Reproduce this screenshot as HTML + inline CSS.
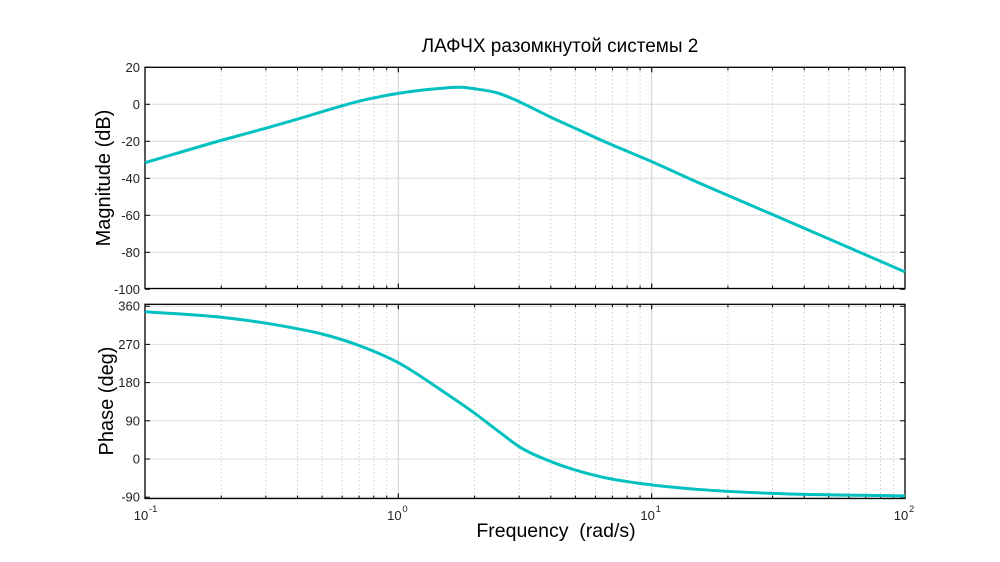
<!DOCTYPE html>
<html><head><meta charset="utf-8">
<style>
html,body{margin:0;padding:0;background:#fff;}
svg{display:block;font-family:"Liberation Sans","DejaVu Sans",sans-serif;}
</style></head>
<body>
<svg id="chart" width="1000" height="562" viewBox="0 0 1000 562" xmlns="http://www.w3.org/2000/svg">
<rect width="1000" height="562" fill="#fff"/>
<text x="560" y="52" text-anchor="middle" font-size="19" fill="#000">ЛАФЧХ разомкнутой системы 2</text>
<text x="556" y="537" text-anchor="middle" font-size="19.5" fill="#000" xml:space="preserve">Frequency  (rad/s)</text>
<text transform="translate(110,178) rotate(-90)" text-anchor="middle" font-size="20" fill="#000">Magnitude (dB)</text>
<text transform="translate(113,401) rotate(-90)" text-anchor="middle" font-size="20" fill="#000">Phase (deg)</text>
<g id="g"></g>
</svg>
<script>
const magFreq = [0.1,0.2,0.3,0.41,0.5,0.71,1,1.47,1.76,2,2.5,3,4,5,6.3,10,15.5,30,100];
const magDb   = [-31.6,-19.5,-12.9,-7.6,-4,1.9,5.9,8.6,9.2,8.4,5.9,1.4,-7,-13,-19.3,-31,-42.7,-59.6,-90.6];
const phFreq  = [0.1,0.2,0.3,0.41,0.5,0.71,1,1.47,2,2.5,3,4,5,6.3,10,15.5,30,100];
const phDeg   = [347,334,320,305.6,294.5,266,227,163,108,64,29,-6,-26,-42,-61,-72,-81,-87];
const magTicks = [20,0,-20,-40,-60,-80,-100];
const phTicks  = [360,270,180,90,0,-90];
const decades  = [-1,0,1,2];

const NS="http://www.w3.org/2000/svg";
const g=document.getElementById('g');
const X0=145,X1=905;
function xs(f){return X0+(Math.log10(f)+1)/3*(X1-X0);}
const top1=67.3,bot1=288.5;
function ym(v){return 104.3-v*37/20;}
const top2=304.3,bot2=498.5;
function yp(v){return 459-v*38.2/90;}
function el(tag,attrs){const e=document.createElementNS(NS,tag);for(const k in attrs)e.setAttribute(k,attrs[k]);g.appendChild(e);return e;}

function axes(T,B,ticks,yf,name){
  ticks.forEach(v=>{
    const y=yf(v);
    if(y>T+1&&y<B-1){const l=el('line',{x1:X0,x2:X1,y1:y,y2:y,stroke:'#dcdcdc','stroke-width':1});
    
    }
    const t=el('text',{x:X0-5,y:y+4.5,'text-anchor':'end','font-size':13,fill:'#222'});
    t.textContent=v;
    
    
    el('line',{x1:X0,x2:X0+5,y1:y,y2:y,stroke:'#000'});
    el('line',{x1:X1,x2:X1-5,y1:y,y2:y,stroke:'#000'});
  });
  for(let d=-1;d<2;d++){
    for(let m=1;m<=10;m++){
      const f=m*Math.pow(10,d);const x=xs(f);
      if(m===1||m===10){
        if(x>X0+1&&x<X1-1){const l=el('line',{x1:x,x2:x,y1:T,y2:B,stroke:'#d8d8d8','stroke-width':1});
        
        }
        el('line',{x1:x,x2:x,y1:B,y2:B-5,stroke:'#000'});
        el('line',{x1:x,x2:x,y1:T,y2:T+5,stroke:'#000'});
      } else {
        const l=el('line',{x1:x,x2:x,y1:T,y2:B,stroke:'#b8b8b8','stroke-width':1,'stroke-dasharray':'1,3'});
        
        
        el('line',{x1:x,x2:x,y1:B,y2:B-3,stroke:'#000'});
        el('line',{x1:x,x2:x,y1:T,y2:T+3,stroke:'#000'});
      }
    }
  }
  const r=el('rect',{x:X0,y:T,width:X1-X0,height:B-T,fill:'none',stroke:'#000','stroke-width':1.3});
  
  
}
function curve(fr,vals,yf,name){
  const p=fr.map((f,i)=>[xs(f),yf(vals[i])]);
  const n=p.length, m=[];
  for(let i=0;i<n;i++){
    if(i===0) m.push((p[1][1]-p[0][1])/(p[1][0]-p[0][0]));
    else if(i===n-1) m.push((p[n-1][1]-p[n-2][1])/(p[n-1][0]-p[n-2][0]));
    else {
      const s0=(p[i][1]-p[i-1][1])/(p[i][0]-p[i-1][0]);
      const s1=(p[i+1][1]-p[i][1])/(p[i+1][0]-p[i][0]);
      const h0=p[i][0]-p[i-1][0], h1=p[i+1][0]-p[i][0];
      m.push((s0*h1+s1*h0)/(h0+h1));
    }
  }
  let d='M'+p[0][0]+','+p[0][1];
  for(let i=0;i<n-1;i++){
    const h=p[i+1][0]-p[i][0];
    d+=' C'+(p[i][0]+h/3)+','+(p[i][1]+m[i]*h/3)+' '+(p[i+1][0]-h/3)+','+(p[i+1][1]-m[i+1]*h/3)+' '+p[i+1][0]+','+p[i+1][1];
  }
  const path=el('path',{d:d,fill:'none',stroke:'#00c0c0','stroke-width':3,'stroke-linejoin':'round'});
  
  
}
axes(top1,bot1,magTicks,ym,'magnitude');
axes(top2,bot2,phTicks,yp,'phase');
curve(magFreq,magDb,ym,'magnitude-line');
curve(phFreq,phDeg,yp,'phase-line');
decades.forEach(d=>{
  const x=xs(Math.pow(10,d));
  const t=el('text',{x:x-4,y:520,'text-anchor':'middle','font-size':13,fill:'#222'});
  t.textContent='10';
  
  
  const s=el('text',{x:x+4,y:512,'text-anchor':'start','font-size':9.5,fill:'#222'});
  s.textContent=String(d);
  
  
});
</script>
</body></html>
